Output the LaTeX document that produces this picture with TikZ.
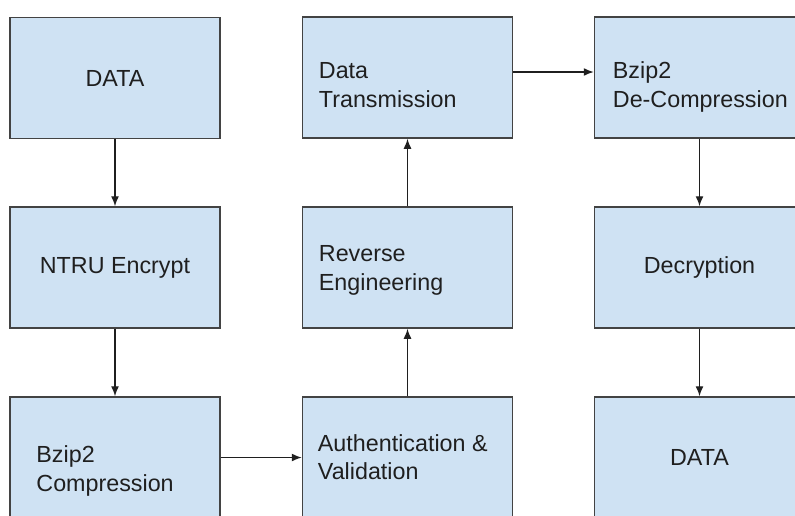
\documentclass[tikz,border=0pt]{standalone}
\usepackage{fontspec}
\setmainfont{Liberation Sans}
\usetikzlibrary{arrows.meta,positioning}

\definecolor{boxfill}{HTML}{CFE2F3}
\definecolor{boxline}{HTML}{434343}
\definecolor{arrowline}{HTML}{1F1F1F}

\begin{document}
\begin{tikzpicture}[x=1pt,y=1pt]
			\useasboundingbox (0,0) rectangle (795,-515);
			\clip (0,0) rectangle (795,-515);
			\begin{scope}[every node/.style={rectangle,draw=boxline,line width=1.5pt,fill=boxfill,minimum width=210pt,minimum height=121pt,text=arrowline,font=\fontsize{23.3}{28.4}\selectfont}]
				\node (data) at (115,-78) {DATA};
				\node (ntru) at (115,-267.5) {NTRU Encrypt};
				\node (bzip) at (115,-457.5) {};
				\node (auth) at (407.5,-457.5) {};
				\node (rev) at (407.5,-267.5) {};
				\node (trans) at (407.5,-77.5) {};
				\node (debzip) at (699.5,-77.5) {};
				\node (decr) at (699.5,-267.5) {Decryption};
				\node (out) at (699.5,-457.5) {DATA};
			\end{scope}
			% left aligned labels
			\begin{scope}[every node/.style={align=left,inner sep=0pt,text=arrowline,font=\fontsize{23.3}{28.4}\selectfont}]
				\node (bzipT) [right=27pt of bzip.west, yshift=-13.5pt] {Bzip2\\Compression};
				\node (authT) [right=16pt of auth.west, yshift=0.5pt] {Authentication \&\\Validation};
				\node (revT) [right=17pt of rev.west, yshift=-3pt] {Reverse\\Engineering};
				\node (transT) [right=17pt of trans.west, yshift=-7.5pt] {Data\\Transmission};
				\node (debzipT) [right=19pt of debzip.west, yshift=-9.5pt] {Bzip2\\De-Compression};
			\end{scope}
			\begin{scope}[>={Latex[length=10pt,width=8pt]}, draw=arrowline, line width=1.4pt]
				\path [->] (data) edge (ntru);
				\path [->] (ntru) edge (bzip);
				\path [->] (bzip) edge (auth);
				\path [->] (auth) edge (rev);
				\path [->] (rev) edge (trans);
				\path [->] ([yshift=5.5pt]trans.east) edge ([yshift=5.5pt]debzip.west);
				\path [->] (debzip) edge (decr);
				\path [->] (decr) edge (out);
			\end{scope}
		\end{tikzpicture}
\end{document}
